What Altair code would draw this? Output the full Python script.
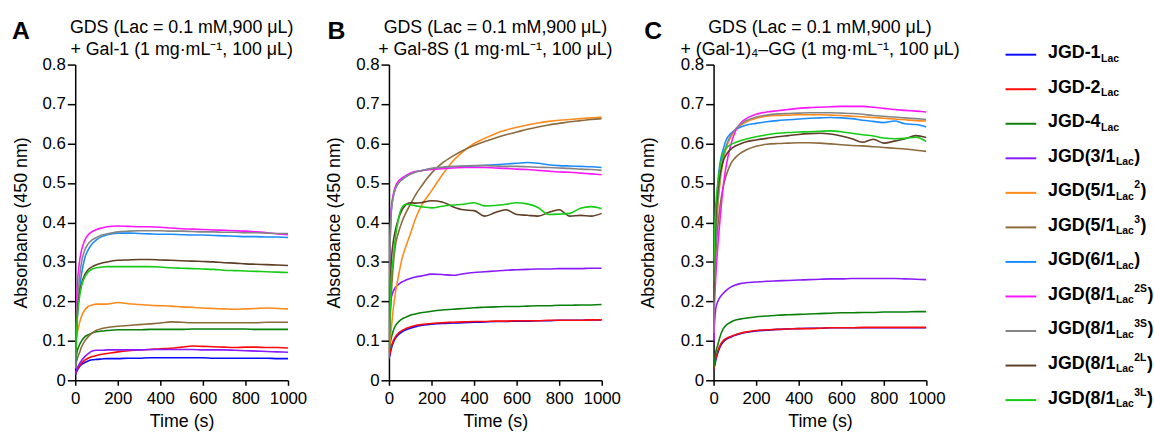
import altair as alt
import pandas as pd

FONT = "Liberation Sans"

# ---- data -------------------------------------------------------------
T = [0, 5, 10, 20, 30, 45, 60, 80, 100, 125, 150, 200, 250, 300, 350, 400,
     450, 500, 550, 600, 650, 700, 750, 800, 850, 900, 950, 1000]

SERIES = ["JGD-1", "JGD-2", "JGD-4", "JGD(3/1)", "JGD(5/1 2)", "JGD(5/1 3)",
          "JGD(6/1)", "JGD(8/1 2S)", "JGD(8/1 3S)", "JGD(8/1 2L)", "JGD(8/1 3L)"]
COLORS = ["#0A0AFF", "#FF0A0A", "#0A800A", "#8A1AFF", "#FF8A1A", "#8C6A3C",
          "#1A8CFF", "#FF14FF", "#858585", "#5E3E26", "#14CC14"]
LABEL_MAIN = ["JGD-1", "JGD-2", "JGD-4", "JGD(3/1", "JGD(5/1", "JGD(5/1",
              "JGD(6/1", "JGD(8/1", "JGD(8/1", "JGD(8/1", "JGD(8/1"]
LABEL_SUB = ["Lac"] * 11
LABEL_SUP = ["", "", "", "", "2", "3", "", "2S", "3S", "2L", "3L"]
LABEL_CLOSE = ["", "", "", ")", ")", ")", ")", ")", ")", ")", ")"]

# Panel A: Gal-1
A_JGD1 = [0.013, 0.02, 0.026, 0.034, 0.040, 0.045, 0.049, 0.052, 0.053, 0.054, 0.055, 0.055, 0.056, 0.056, 0.057, 0.057, 0.057, 0.057, 0.057, 0.057, 0.056, 0.056, 0.056, 0.056, 0.056, 0.056, 0.055, 0.055]
A_JGD2 = [0.015, 0.022, 0.028, 0.037, 0.044, 0.051, 0.056, 0.060, 0.063, 0.066, 0.068, 0.072, 0.075, 0.077, 0.078, 0.080, 0.081, 0.084, 0.087, 0.086, 0.085, 0.084, 0.083, 0.084, 0.084, 0.083, 0.083, 0.082]
A_JGD4 = [0.04, 0.06, 0.075, 0.09, 0.10, 0.11, 0.115, 0.120, 0.123, 0.125, 0.126, 0.128, 0.128, 0.128, 0.129, 0.129, 0.129, 0.129, 0.130, 0.130, 0.130, 0.130, 0.130, 0.130, 0.129, 0.129, 0.129, 0.129]
A_31 = [0.017, 0.025, 0.032, 0.042, 0.050, 0.060, 0.067, 0.074, 0.076, 0.076, 0.077, 0.077, 0.077, 0.077, 0.078, 0.078, 0.078, 0.078, 0.078, 0.077, 0.077, 0.077, 0.076, 0.075, 0.074, 0.073, 0.072, 0.071]
A_51_2 = [0.077, 0.10, 0.12, 0.145, 0.163, 0.178, 0.187, 0.191, 0.193, 0.193, 0.193, 0.197, 0.194, 0.192, 0.190, 0.189, 0.188, 0.186, 0.185, 0.183, 0.182, 0.181, 0.180, 0.181, 0.182, 0.183, 0.182, 0.181]
A_51_3 = [0.034, 0.045, 0.055, 0.07, 0.085, 0.10, 0.11, 0.12, 0.127, 0.131, 0.134, 0.137, 0.139, 0.141, 0.143, 0.145, 0.148, 0.147, 0.146, 0.146, 0.146, 0.146, 0.146, 0.146, 0.146, 0.147, 0.147, 0.147]
A_61 = [0.03, 0.10, 0.16, 0.23, 0.27, 0.31, 0.33, 0.346, 0.356, 0.364, 0.369, 0.373, 0.373, 0.372, 0.371, 0.370, 0.370, 0.369, 0.368, 0.368, 0.367, 0.366, 0.365, 0.364, 0.364, 0.363, 0.363, 0.362]
A_81_2S = [0.05, 0.17, 0.24, 0.30, 0.33, 0.355, 0.368, 0.377, 0.382, 0.386, 0.389, 0.391, 0.390, 0.389, 0.389, 0.388, 0.386, 0.384, 0.383, 0.382, 0.381, 0.380, 0.379, 0.378, 0.376, 0.374, 0.371, 0.369]
A_81_3S = [0.04, 0.13, 0.19, 0.26, 0.30, 0.33, 0.345, 0.356, 0.362, 0.368, 0.371, 0.376, 0.378, 0.379, 0.379, 0.379, 0.378, 0.378, 0.377, 0.376, 0.376, 0.375, 0.375, 0.374, 0.374, 0.373, 0.372, 0.372]
A_81_2L = [0.04, 0.12, 0.17, 0.22, 0.245, 0.268, 0.280, 0.288, 0.293, 0.297, 0.300, 0.304, 0.305, 0.306, 0.306, 0.305, 0.304, 0.303, 0.302, 0.301, 0.300, 0.298, 0.297, 0.295, 0.294, 0.293, 0.292, 0.291]
A_81_3L = [0.03, 0.11, 0.16, 0.21, 0.24, 0.262, 0.274, 0.282, 0.285, 0.287, 0.288, 0.288, 0.288, 0.288, 0.288, 0.287, 0.285, 0.284, 0.283, 0.282, 0.281, 0.279, 0.278, 0.277, 0.276, 0.275, 0.274, 0.273]

# Panel B: Gal-8S
B_JGD1 = [0.055, 0.065, 0.078, 0.095, 0.106, 0.116, 0.122, 0.128, 0.132, 0.136, 0.139, 0.142, 0.144, 0.145, 0.146, 0.147, 0.148, 0.149, 0.149, 0.150, 0.150, 0.151, 0.151, 0.152, 0.152, 0.152, 0.153, 0.153]
B_JGD2 = [0.055, 0.07, 0.083, 0.10, 0.11, 0.12, 0.126, 0.131, 0.135, 0.139, 0.141, 0.144, 0.146, 0.147, 0.148, 0.149, 0.149, 0.150, 0.150, 0.151, 0.151, 0.151, 0.152, 0.152, 0.152, 0.152, 0.153, 0.153]
B_JGD4 = [0.07, 0.09, 0.105, 0.125, 0.138, 0.148, 0.155, 0.160, 0.165, 0.168, 0.171, 0.175, 0.178, 0.180, 0.182, 0.184, 0.185, 0.186, 0.187, 0.187, 0.188, 0.189, 0.189, 0.190, 0.190, 0.191, 0.191, 0.192]
B_31 = [0.06, 0.16, 0.205, 0.225, 0.235, 0.243, 0.249, 0.254, 0.258, 0.262, 0.264, 0.269, 0.268, 0.266, 0.270, 0.273, 0.275, 0.277, 0.279, 0.280, 0.281, 0.282, 0.282, 0.283, 0.283, 0.283, 0.284, 0.284]
B_51_2 = [0.08, 0.10, 0.125, 0.18, 0.22, 0.265, 0.305, 0.34, 0.37, 0.41, 0.44, 0.48, 0.52, 0.555, 0.58, 0.60, 0.613, 0.625, 0.634, 0.641, 0.647, 0.652, 0.656, 0.659, 0.661, 0.663, 0.665, 0.667]
B_51_3 = [0.08, 0.15, 0.21, 0.29, 0.34, 0.375, 0.40, 0.425, 0.445, 0.47, 0.49, 0.525, 0.55, 0.568, 0.583, 0.595, 0.605, 0.614, 0.622, 0.629, 0.636, 0.642, 0.647, 0.651, 0.655, 0.658, 0.661, 0.663]
B_61 = [0.10, 0.33, 0.42, 0.465, 0.485, 0.50, 0.508, 0.516, 0.523, 0.528, 0.531, 0.536, 0.539, 0.541, 0.542, 0.543, 0.545, 0.546, 0.548, 0.550, 0.552, 0.550, 0.546, 0.544, 0.543, 0.542, 0.541, 0.539]
B_81_2S = [0.12, 0.35, 0.43, 0.47, 0.49, 0.505, 0.512, 0.519, 0.525, 0.529, 0.531, 0.534, 0.536, 0.538, 0.539, 0.539, 0.539, 0.538, 0.537, 0.535, 0.534, 0.532, 0.530, 0.528, 0.527, 0.525, 0.523, 0.521]
B_81_3S = [0.10, 0.33, 0.42, 0.465, 0.485, 0.50, 0.508, 0.516, 0.522, 0.528, 0.531, 0.537, 0.540, 0.542, 0.543, 0.544, 0.544, 0.543, 0.542, 0.542, 0.541, 0.540, 0.539, 0.538, 0.537, 0.535, 0.534, 0.532]
B_81_2L = [0.07, 0.20, 0.29, 0.35, 0.38, 0.41, 0.43, 0.445, 0.45, 0.449, 0.450, 0.455, 0.452, 0.44, 0.432, 0.43, 0.416, 0.425, 0.432, 0.42, 0.418, 0.416, 0.425, 0.432, 0.416, 0.418, 0.416, 0.423]
B_81_3L = [0.06, 0.17, 0.25, 0.31, 0.36, 0.41, 0.437, 0.446, 0.445, 0.442, 0.440, 0.437, 0.441, 0.444, 0.446, 0.450, 0.442, 0.443, 0.446, 0.450, 0.447, 0.438, 0.420, 0.421, 0.423, 0.436, 0.440, 0.435]

# Panel C: (Gal-1)4-GG
C_JGD1 = [0.025, 0.037, 0.05, 0.07, 0.084, 0.097, 0.104, 0.109, 0.114, 0.118, 0.121, 0.125, 0.127, 0.129, 0.130, 0.131, 0.132, 0.132, 0.133, 0.133, 0.133, 0.133, 0.133, 0.133, 0.133, 0.133, 0.133, 0.133]
C_JGD2 = [0.025, 0.04, 0.055, 0.075, 0.088, 0.10, 0.106, 0.111, 0.115, 0.119, 0.122, 0.126, 0.128, 0.129, 0.130, 0.131, 0.131, 0.132, 0.133, 0.133, 0.133, 0.134, 0.134, 0.134, 0.134, 0.134, 0.134, 0.134]
C_JGD4 = [0.03, 0.05, 0.07, 0.09, 0.11, 0.13, 0.14, 0.147, 0.152, 0.155, 0.157, 0.161, 0.163, 0.165, 0.166, 0.167, 0.168, 0.169, 0.170, 0.171, 0.171, 0.172, 0.172, 0.173, 0.173, 0.173, 0.174, 0.174]
C_31 = [0.09, 0.15, 0.18, 0.20, 0.21, 0.22, 0.228, 0.236, 0.241, 0.245, 0.247, 0.249, 0.251, 0.252, 0.253, 0.254, 0.255, 0.256, 0.257, 0.257, 0.258, 0.258, 0.258, 0.258, 0.258, 0.257, 0.256, 0.255]
C_51_2 = [0.12, 0.26, 0.35, 0.44, 0.50, 0.555, 0.59, 0.615, 0.632, 0.645, 0.654, 0.664, 0.669, 0.671, 0.672, 0.673, 0.673, 0.673, 0.672, 0.671, 0.669, 0.668, 0.666, 0.664, 0.662, 0.660, 0.658, 0.657]
C_51_3 = [0.15, 0.26, 0.32, 0.39, 0.44, 0.49, 0.52, 0.548, 0.563, 0.575, 0.583, 0.593, 0.598, 0.600, 0.601, 0.602, 0.602, 0.601, 0.599, 0.597, 0.595, 0.594, 0.592, 0.590, 0.588, 0.586, 0.583, 0.580]
C_61 = [0.15, 0.28, 0.38, 0.50, 0.55, 0.585, 0.61, 0.625, 0.634, 0.641, 0.646, 0.651, 0.655, 0.658, 0.660, 0.662, 0.664, 0.665, 0.666, 0.665, 0.663, 0.659, 0.656, 0.653, 0.657, 0.650, 0.648, 0.642]
C_81_2S = [0.10, 0.20, 0.26, 0.34, 0.405, 0.49, 0.545, 0.595, 0.628, 0.650, 0.662, 0.674, 0.680, 0.683, 0.686, 0.689, 0.691, 0.692, 0.693, 0.694, 0.694, 0.694, 0.692, 0.689, 0.686, 0.684, 0.682, 0.680]
C_81_3S = [0.12, 0.27, 0.36, 0.45, 0.51, 0.565, 0.595, 0.62, 0.635, 0.648, 0.657, 0.667, 0.672, 0.675, 0.676, 0.677, 0.678, 0.678, 0.678, 0.677, 0.676, 0.674, 0.671, 0.669, 0.667, 0.665, 0.663, 0.661]
C_81_2L = [0.20, 0.33, 0.41, 0.48, 0.52, 0.555, 0.572, 0.585, 0.593, 0.599, 0.604, 0.609, 0.613, 0.617, 0.620, 0.623, 0.625, 0.626, 0.624, 0.619, 0.612, 0.603, 0.611, 0.601, 0.606, 0.612, 0.620, 0.615]
C_81_3L = [0.25, 0.38, 0.44, 0.50, 0.54, 0.575, 0.588, 0.597, 0.602, 0.607, 0.611, 0.617, 0.622, 0.626, 0.628, 0.629, 0.630, 0.631, 0.632, 0.630, 0.626, 0.622, 0.619, 0.614, 0.612, 0.613, 0.616, 0.605]

PANEL_A = [A_JGD1, A_JGD2, A_JGD4, A_31, A_51_2, A_51_3, A_61, A_81_2S, A_81_3S, A_81_2L, A_81_3L]
PANEL_B = [B_JGD1, B_JGD2, B_JGD4, B_31, B_51_2, B_51_3, B_61, B_81_2S, B_81_3S, B_81_2L, B_81_3L]
PANEL_C = [C_JGD1, C_JGD2, C_JGD4, C_31, C_51_2, C_51_3, C_61, C_81_2S, C_81_3S, C_81_2L, C_81_3L]

TITLE_A = ["GDS (Lac = 0.1 mM,900 \u03bcL)", "+ Gal-1 (1 mg\u00b7mL\u207b\u00b9, 100 \u03bcL)"]
TITLE_B = ["GDS (Lac = 0.1 mM,900 \u03bcL)", "+ Gal-8S (1 mg\u00b7mL\u207b\u00b9, 100 \u03bcL)"]
TITLE_C = ["GDS (Lac = 0.1 mM,900 \u03bcL)", "+ (Gal-1)\u2084\u2013GG (1 mg\u00b7mL\u207b\u00b9, 100 \u03bcL)"]

X_TICKS = [0, 200, 400, 600, 800, 1000]
Y_TICKS = [0, 0.1, 0.2, 0.3, 0.4, 0.5, 0.6, 0.7, 0.8]


def long_df(series_lists):
    rows = []
    for key, vals in zip(SERIES, series_lists):
        assert len(vals) == len(T)
        for t, v in zip(T, vals):
            rows.append({"series": key, "t": t, "v": v})
    return pd.DataFrame(rows)


def panel(series_lists, title_lines, letter, letter_dx, ytitle_pad):
    df = long_df(series_lists)
    x = alt.X("t:Q", scale=alt.Scale(domain=[0, 1000], nice=False),
              axis=alt.Axis(values=X_TICKS, title="Time (s)", format="d",
                            tickSize=5, labelPadding=5, titlePadding=7,
                            labelOverlap=False, labelBound=False, labelFlush=False))
    y = alt.Y("v:Q", scale=alt.Scale(domain=[0, 0.8], nice=False),
              axis=alt.Axis(values=Y_TICKS, title="Absorbance (450 nm)",
                            labelExpr="datum.value == 0 ? '0' : format(datum.value, '.1f')",
                            tickSize=8, labelPadding=2, titlePadding=ytitle_pad,
                            labelOverlap=False))
    lines = alt.Chart(df).mark_line(strokeWidth=1.6, interpolate="monotone", clip=True).encode(
        x=x, y=y,
        color=alt.Color("series:N", scale=alt.Scale(domain=SERIES, range=COLORS), legend=None),
    )
    lab = alt.Chart(alt.Data(values=[{"s": letter}])).mark_text(
        font=FONT, fontSize=25, fontWeight="bold", align="left", baseline="alphabetic", color="black"
    ).encode(text="s:N", x=alt.value(letter_dx), y=alt.value(-26))
    return alt.layer(lines, lab).properties(
        width=215, height=319,
        title=alt.TitleParams(text=title_lines, font=FONT, fontSize=18, fontWeight="normal",
                              color="black", anchor="middle", frame="group", offset=-40, lineHeight=22),
        view=alt.ViewBackground(stroke="black", strokeWidth=1.5),
    )


# ---- legend ------------------------------------------------------------
BOLD_W = {"J": 556, "G": 778, "D": 722, "-": 333, "(": 333, ")": 333, "/": 278,
          "L": 611, "a": 556, "c": 556, "S": 667}


def text_w(s, size):
    return sum(BOLD_W.get(ch, 556) for ch in s) * size / 1000.0


MAIN_FS, SMALL_FS = 18, 10.5
LINE_X0, LINE_X1, TEXT_X0 = 27, 58, 70
LEG_H = 319
ROW_TOP, ROW_BOTTOM = -10.0, 339.0   # pixel rows of first/last entry, relative to plot top
n = len(SERIES)
span = (n - 1) * LEG_H / (ROW_BOTTOM - ROW_TOP)
d0 = -ROW_TOP * span / LEG_H
leg = pd.DataFrame({"series": SERIES, "idx": list(range(n)), "main": LABEL_MAIN, "sub": LABEL_SUB,
                    "sup": LABEL_SUP, "close": LABEL_CLOSE})
leg["x_sub"] = [TEXT_X0 + text_w(m, MAIN_FS) + 0.5 for m in LABEL_MAIN]
leg["x_sup"] = [xs + text_w(s, SMALL_FS) + 0.5 for xs, s in zip(leg["x_sub"], LABEL_SUB)]
leg["x_close"] = [xs + text_w(s, SMALL_FS) + (0.5 if s else 0) for xs, s in zip(leg["x_sup"], LABEL_SUP)]

ly = alt.Y("idx:Q", scale=alt.Scale(domain=[d0, d0 + span], reverse=True, nice=False, zero=False),
           axis=None)
lbase = alt.Chart(leg)
l_rule = lbase.mark_rule(strokeWidth=2).encode(
    x=alt.value(LINE_X0), x2=alt.value(LINE_X1), y=ly,
    color=alt.Color("series:N", scale=alt.Scale(domain=SERIES, range=COLORS), legend=None))
txt = dict(font=FONT, fontWeight="bold", align="left", baseline="alphabetic", color="black")
l_main = lbase.mark_text(fontSize=MAIN_FS, dy=3.5, **txt).encode(x=alt.value(TEXT_X0), y=ly, text="main:N")
l_sub = lbase.mark_text(fontSize=SMALL_FS, dy=7, **txt).encode(x=alt.X("x_sub:Q", scale=None), y=ly, text="sub:N")
l_sup = lbase.mark_text(fontSize=SMALL_FS, dy=-4.5, **txt).encode(x=alt.X("x_sup:Q", scale=None), y=ly, text="sup:N")
l_close = lbase.mark_text(fontSize=MAIN_FS, dy=3.5, **txt).encode(x=alt.X("x_close:Q", scale=None), y=ly, text="close:N")
legend_chart = alt.layer(l_rule, l_main, l_sub, l_sup, l_close).properties(
    width=150, height=LEG_H, view=alt.ViewBackground(strokeOpacity=0))

pA = panel(PANEL_A, TITLE_A, "A", -64, 12)
pB = panel(PANEL_B, TITLE_B, "B", -62, 12)
pC = panel(PANEL_C, TITLE_C, "C", -70, 23)

chart = alt.hconcat(pA, pB, pC, legend_chart, spacing=19).properties(
    padding={"left": 12, "top": 17, "right": 0, "bottom": 0}
).configure_view(strokeOpacity=0).configure_axis(
    labelFont=FONT, titleFont=FONT, labelFontSize=17, titleFontSize=18, titleFontWeight="normal",
    labelColor="black", titleColor="black", domainColor="black", tickColor="black",
    domainWidth=1.5, tickWidth=1.5, grid=False,
)

chart.save("out.html", embed_options={"renderer": "svg", "actions": False})
